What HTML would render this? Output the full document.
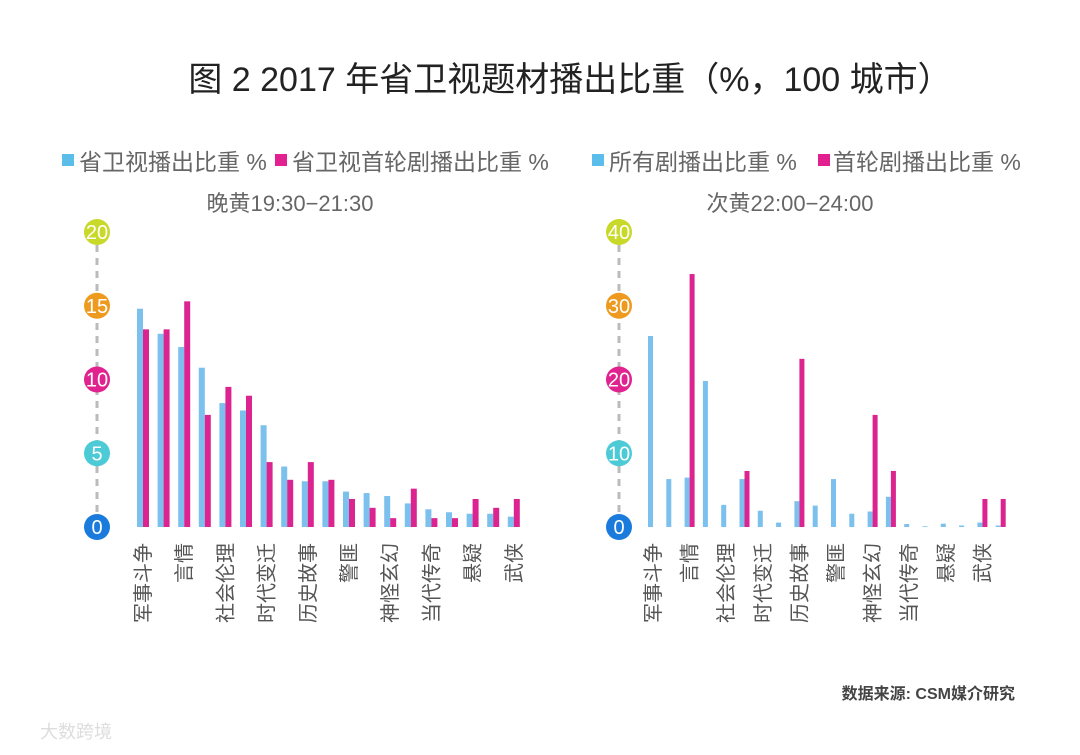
<!DOCTYPE html>
<html><head><meta charset="utf-8"><style>
body{margin:0;background:#fff;width:1080px;height:750px;overflow:hidden}
svg text{font-family:"Liberation Sans","Noto Sans CJK SC",sans-serif}
</style></head><body>
<svg id="c" width="1080" height="750">
<text x="570" y="91" font-size="34" fill="#222" text-anchor="middle">图 2 2017 年省卫视题材播出比重（%，100 城市）</text>
<g>
<rect x="62" y="154" width="12" height="12" fill="#5bbde9"/>
<text x="79" y="170" font-size="23" fill="#666">省卫视播出比重 %</text>
<rect x="275" y="154" width="12" height="12" fill="#e2208f"/>
<text x="292" y="170" font-size="23" fill="#666">省卫视首轮剧播出比重 %</text>
</g>
<text x="290" y="211" font-size="22" fill="#666" text-anchor="middle">晚黄19:30−21:30</text>
<g>
<rect x="592" y="154" width="12" height="12" fill="#5bbde9"/>
<text x="609" y="170" font-size="23" fill="#666">所有剧播出比重 %</text>
<rect x="818" y="154" width="12" height="12" fill="#e2208f"/>
<text x="833" y="170" font-size="23" fill="#666">首轮剧播出比重 %</text>
</g>
<text x="790" y="211" font-size="22" fill="#666" text-anchor="middle">次黄22:00−24:00</text>
<text x="1015" y="699" font-size="16" font-weight="bold" fill="#444" text-anchor="end">数据来源: CSM媒介研究</text>
<text x="40" y="738" font-size="18" fill="#ddd">大数跨境</text>
</svg>
<script>
const leftCategories=["军事斗争","","言情","","社会伦理","","时代变迁","","历史故事","","警匪","","神怪玄幻","","当代传奇","","悬疑","","武侠"];
const leftBlue=[14.8,13.1,12.2,10.8,8.4,7.9,6.9,4.1,3.1,3.1,2.4,2.3,2.1,1.6,1.2,1.0,0.9,0.9,0.7];
const leftPink=[13.4,13.4,15.3,7.6,9.5,8.9,4.4,3.2,4.4,3.2,1.9,1.3,0.6,2.6,0.6,0.6,1.9,1.3,1.9];
const leftTicks=[0,5,10,15,20];
const rightCategories=["军事斗争","","言情","","社会伦理","","时代变迁","","历史故事","","警匪","","神怪玄幻","","当代传奇","","悬疑","","武侠",""];
const rightBlue=[25.9,6.5,6.7,19.8,3.0,6.5,2.2,0.6,3.5,2.9,6.5,1.8,2.1,4.1,0.4,0.1,0.45,0.2,0.6,0.2];
const rightPink=[0,0,34.3,0,0,7.6,0,0,22.8,0,0,0,15.2,7.6,0,0,0,0,3.8,3.8];
const rightTicks=[0,10,20,30,40];
const tickColors=["#1a7bdc","#4ccad6","#e0238e","#ee9a1e","#c8d92a"];
const svg=document.getElementById('c');
const NS="http://www.w3.org/2000/svg";
function mk(t,a){const e=document.createElementNS(NS,t);for(const k in a)e.setAttribute(k,a[k]);svg.appendChild(e);return e;}
function chart(side,cats,blue,pink,ticks,axisX,x0,step,bw,labelEvery){
  const y0=527,y1=232,max=ticks[ticks.length-1];
  const y=v=>y0-(v/max)*(y0-y1);
  let l=mk('line',{x1:axisX,y1:y1,x2:axisX,y2:y0,stroke:'#bbb','stroke-width':3,'stroke-dasharray':'7,6'});
  
  
  ticks.forEach((t,i)=>{
    const c=mk('circle',{cx:axisX,cy:y(t),r:13,fill:tickColors[i]});
    
    
    const tx=mk('text',{x:axisX,y:y(t)+7,'font-size':20,fill:'#fff','text-anchor':'middle'});
    tx.textContent=t;
    
    
  });
  blue.forEach((v,i)=>{
    const cx=x0+i*step;
    const b=mk('rect',{x:cx-bw,y:y(v),width:bw,height:y0-y(v),fill:'#7cc0ee'});
    
    
    if(pink[i]>0){
      const p=mk('rect',{x:cx,y:y(pink[i]),width:bw,height:y0-y(pink[i]),fill:'#dc2491'});
      
      
    }
  });
  cats.forEach((c,i)=>{
    if(!c)return;
    const cx=x0+i*step+labelEvery;
    const t=mk('text',{x:0,y:0,'font-size':20,fill:'#555','text-anchor':'end',transform:`translate(${cx+7},543) rotate(-90)`});
    t.textContent=c;
    
    
  });
}
chart('left',leftCategories,leftBlue,leftPink,leftTicks,97,143,20.6,6,0);
chart('right',rightCategories,rightBlue,rightPink,rightTicks,619,653,18.3,5,0);
</script>
</body></html>
